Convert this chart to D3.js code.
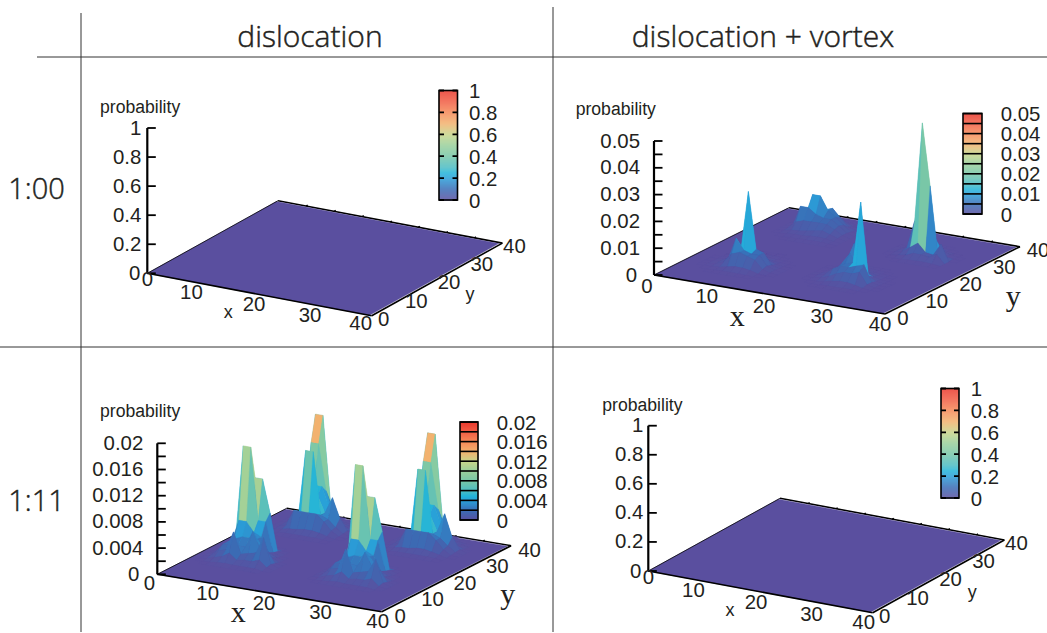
<!DOCTYPE html>
<html><head><meta charset="utf-8">
<script src="https://cdnjs.cloudflare.com/ajax/libs/d3/7.8.5/d3.min.js"></script>
<style>html,body{margin:0;padding:0;background:#fff;overflow:hidden}svg{display:block}</style>
</head><body><svg id="c" width="1047" height="633"></svg>
<script>
// ---------- DATA ----------
const columnTitles = ["dislocation", "dislocation + vortex"];
const rowLabels = ["1:00", "1:11"];
const xyTicks = [0, 10, 20, 30, 40];
const backTicks = [5, 10, 15, 20, 25, 30, 35];
const unitZTicks = [0, 0.2, 0.4, 0.6, 0.8, 1];
const unitZLabels = ["0", "0.2", "0.4", "0.6", "0.8", "1"];
const lowZTicks = [0, 0.002, 0.004, 0.006, 0.008, 0.01, 0.012, 0.014, 0.016, 0.018, 0.02];
const lowZLabels = ["0", "0.004", "0.008", "0.012", "0.016", "0.02"];
const midZTicks = [0, 0.005, 0.01, 0.015, 0.02, 0.025, 0.03, 0.035, 0.04, 0.045, 0.05];
const midZLabels = ["0", "0.01", "0.02", "0.03", "0.04", "0.05"];
const paletteStops = [0, 0.1, 0.2, 0.25, 0.3, 0.4, 0.5, 0.6, 0.7, 0.8, 0.9, 1];
const paletteColors = ["#5a4f9f", "#3a6cb5", "#2a9ed8", "#22b4d9", "#4bbcc4", "#76c6a8", "#98cf9b", "#c6d58a", "#f2b26f", "#f68a58", "#f15f45", "#e93a2e"];

// Surface samples on the 30-cell grid, in units of 0.001.
// Each row is one grid line in y (back to front), each column one grid line in x.
const lowPeakA = { i0: 1, jTop: 15, rows: [
  [0,0,.1,.2,1,1,.2,0,0,0],
  [0,0,.3,.8,11,11,6,.3,0,0],
  [0,.2,2,16,16,5,5,.5,0,0],
  [0,.2,1.5,5,5,3.5,3,.8,.2,0],
  [0,.3,1.8,2.5,3,3,3,2,.5,0],
  [0,.4,1.8,2,2,2,4.5,2,1.8,.2],
  [0,.3,1.2,1.5,4.4,1.2,1.5,1.8,4.3,.4],
  [0,.1,.5,.8,1.5,.6,.8,.8,1.2,.2],
  [0,0,.1,.2,.3,.2,.2,.2,.2,0]] };
const lowPeakB = { i0: 2, jTop: 29, rows: [
  [0,0,.3,1,1,.3,0,0,0,0],
  [0,.3,.5,16,16,3,.5,.2,0,0],
  [0,.3,.8,12,12,5,1.5,.5,.2,0],
  [0,.3,1,4,6,6,3,1,.5,0],
  [0,.3,1,2,3,5,2.5,5,2,.3],
  [0,.2,.8,1.5,12,12,2.5,2,1,.2],
  [0,.2,.6,3,3,3,3,2,.8,.1],
  [0,.1,.3,.5,.6,.8,.8,.6,.3,0],
  [0,0,.1,.2,.2,.2,.2,.2,.1,0]] };
const lowPeakC = { i0: 16, jTop: 15, rows: [
  [0,0,.1,.2,1,1,.2,0,0,0],
  [0,0,.3,.8,11,11,6,.3,0,0],
  [0,.2,2,16,16,5,5,.5,0,0],
  [0,.2,1.5,5,5,3.5,3,.8,.2,0],
  [0,.3,1.8,2.5,3,3,3.2,2,.5,0],
  [0,.4,1.8,2,2,2,4.2,2,1.8,.2],
  [0,.3,1.2,1.5,4.6,1.2,1.5,1.8,3.8,.4],
  [0,.1,.5,.8,1.5,.6,.8,.8,1.2,.2],
  [0,0,.1,.2,.3,.2,.2,.2,.2,0]] };
const lowPeakD = { i0: 17, jTop: 29, rows: [
  [0,0,.3,1,1,.3,0,0,0,0],
  [0,.3,.5,16,16,3,.5,.2,0,0],
  [0,.3,.8,12,12,5,1.5,.5,.2,0],
  [0,.3,1,4,6,6,3,1,.5,0],
  [0,.3,1,2,3,5,2.5,5.4,2,.3],
  [0,.2,.8,1.5,12,12,2.5,2,1,.2],
  [0,.2,.6,3,3,3,3,2,.8,.1],
  [0,.1,.3,.5,.6,.8,.8,.6,.3,0],
  [0,0,.1,.2,.2,.2,.2,.2,.1,0]] };
const midPeakA = { i0: 3, jTop: 13, rows: [
  [0,0,0,.1,.2,.1,0,0,0],
  [0,0,.1,.3,.6,.3,.1,0,0],
  [0,.1,.4,1,1.5,1,.4,.1,0],
  [0,.2,1,2,4,4,1.5,.4,.1],
  [.1,.4,1.5,4,27,6,5,1,.2],
  [.1,.6,2,10,6,5,5,1.5,.4],
  [.1,.4,1.5,5,6,5,4,1,.2],
  [0,.2,.4,1,1.5,1.5,1,.2,0],
  [0,0,.1,.2,.2,.2,.1,0,0]] };
const midPeakB = { i0: 3, jTop: 28, rows: [
  [0,0,0,.2,.5,.5,.2,0,0],
  [0,0,.2,1,2,3,1.5,.3,0],
  [0,.2,.5,2,6,7,4,1,.2],
  [0,.3,1,12,12,7,5,2.5,.5],
  [0,.3,8,8,6,5,5,3,.8],
  [0,.3,3,4,4,4,4,2.5,.8],
  [0,.2,.8,1,1.5,2,2.5,1.5,.5],
  [0,0,.3,.5,.5,.8,1,.8,.3],
  [0,0,0,.2,.2,.3,.4,.3,.2]] };
const midPeakC = { i0: 15, jTop: 14, rows: [
  [0,0,0,.1,.2,.2,.1,0,0,0],
  [0,0,.1,.4,1,.6,.3,.1,0,0],
  [0,.1,.4,1.5,11,2,1,.4,.1,0],
  [0,.1,.5,4,8,4,2,.8,.1,0],
  [0,.2,1,3,5,6,29,2,.4,.1],
  [0,.2,1,3.5,5,5,6,7,.8,.1],
  [0,.1,.5,1.5,3,4,4,5,.8,.1],
  [0,0,.1,.4,1,1.5,1.5,1,.3,0],
  [0,0,0,.1,.2,.2,.2,.2,0,0]] };
const midPeakD = { i0: 18, jTop: 25, rows: [
  [0,0,0,.2,.3,.2,0,0,0],
  [0,0,.2,.5,1,1,.3,0,0],
  [0,.2,.5,1.5,6,6,1.5,.3,0],
  [0,.2,1.5,12,49,26,1,.5,.1],
  [0,.2,1,3,5,2,1.5,6,0],
  [0,0,.3,.8,2,2,1.5,3,0],
  [0,0,0,.2,.4,.5,.5,.3,0]] };

const surfaceTL = [];
const surfaceTR = [midPeakA, midPeakB, midPeakC, midPeakD];
const surfaceBL = [lowPeakA, lowPeakB, lowPeakC, lowPeakD];
const surfaceBR = [];
const gridCells = 30;
const gridSpan = 40;

// ---------- LAYOUT ----------
const panels = [
 { o:[147.3,273.3], xE:[371.7,315.7], yE:[278,200.7], zTop:128, zMax:1, zTicks:unitZTicks, zLabels:unitZLabels, surf:surfaceTL,
   zLabX:-6, zeroX:-7, xOff:[[0,6],[-12,8],[-5.5,9],[-5.6,10],[-11,7.6]], yOff:[12,3],
   xLab:[228.3,311.7], yLab:[470,294.3], serif:false, prob:[100,106.7],
   bar:[439,457.5,90.5,200], barLabX:469, discrete:false, barTicks:unitZTicks },
 { o:[654,275], xE:[885,314], yE:[789,207.7], zTop:141, zMax:0.05, zTicks:midZTicks, zLabels:midZLabels, surf:surfaceTR,
   zLabX:-14, zeroX:-17, xOff:[[-7,11],[-5,11],[-5.5,11.5],[-5.5,11.5],[-5,10]], yOff:[18,3.5],
   xLab:[737.3,315], yLab:[1013.3,295.7], serif:true, prob:[575.7,109],
   bar:[963,982,113.5,214], barLabX:1000.7, discrete:true, barTicks:midZTicks },
 { o:[157.3,574.3], xE:[381.7,611.7], yE:[286.7,508.3], zTop:443.3, zMax:0.02, zTicks:lowZTicks, zLabels:lowZLabels, surf:surfaceBL,
   zLabX:-14, zeroX:-18, xOff:[[-8,9],[-5.7,9.6],[-5.5,9.7],[-5,10],[-4,9.3]], yOff:[18.5,4],
   xLab:[238.3,611.7], yLab:[507.7,593.3], serif:true, prob:[100,410.7],
   bar:[460,478,422,520], barLabX:496.7, discrete:true, barTicks:lowZTicks },
 { o:[648.3,571], xE:[872.7,612.7], yE:[780,498.3], zTop:425.7, zMax:1, zTicks:unitZTicks, zLabels:unitZLabels, surf:surfaceBR,
   zLabX:-5, zeroX:-7, xOff:[[0,6],[-11,9],[-4.5,10],[-5,12],[-9,9]], yOff:[12,3],
   xLab:[730,610], yLab:[972.3,591.7], serif:false, prob:[602.3,405],
   bar:[941,959,388.5,498], barLabX:970.7, discrete:false, barTicks:unitZTicks }
];

const SANS = '"Liberation Sans", Arial, sans-serif';
const SERIF = '"Liberation Serif", serif';
const TITLE = '"Open Sans", sans-serif';
const INK = "#231f20";
const svg = d3.select("#c");

// ---------- TABLE RULES ----------
const rules = [[37,57,1047,57],[0,347,1047,347],[81,13,81,632],[553,7,553,632]];
svg.selectAll("line.rule").data(rules).join("line").attr("class","rule")
  .attr("x1",d=>d[0]).attr("y1",d=>d[1]).attr("x2",d=>d[2]).attr("y2",d=>d[3])
  .attr("stroke","#333").attr("stroke-width",1);
const heavy = sel => sel.style("font-family",TITLE).style("font-weight",300).attr("fill",INK).attr("stroke",INK).attr("stroke-width",.45);
svg.selectAll("text.coltitle").data(columnTitles).join("text").attr("class","coltitle")
  .attr("x",(d,i)=>[310,763][i]).attr("y",47).attr("text-anchor","middle").style("font-size","30px").call(heavy).text(d=>d);
svg.selectAll("text.rowlabel").data(rowLabels).join("text").attr("class","rowlabel")
  .attr("x",36.5).attr("y",(d,i)=>[199,511][i]).attr("text-anchor","middle").style("font-size","29px").call(heavy).text(d=>d);

// ---------- PANELS ----------
const palette = d3.scaleLinear().domain(paletteStops).range(paletteColors).clamp(true);

panels.forEach(p => {
  const g = svg.append("g");
  const xS = d3.scaleLinear().domain([0,40]).range([0,1]);
  const yS = d3.scaleLinear().domain([0,40]).range([0,1]);
  const zS = d3.scaleLinear().domain([0,p.zMax]).range([0,p.zTop-p.o[1]]);
  const gS = d3.scaleLinear().domain([0,gridCells]).range([0,gridSpan]);
  const proj = (x,y,z) => [
    p.o[0] + xS(x)*(p.xE[0]-p.o[0]) + yS(y)*(p.yE[0]-p.o[0]),
    p.o[1] + xS(x)*(p.xE[1]-p.o[1]) + yS(y)*(p.yE[1]-p.o[1]) + zS(z)
  ];
  const right = [p.xE[0]+p.yE[0]-p.o[0], p.xE[1]+p.yE[1]-p.o[1]];
  const line = d3.line();
  const black = a => g.append("path").attr("d",line(a)).attr("stroke","#000").attr("fill","none");

  // build sparse grid from the samples
  const grid = new Map();
  const key = (i,j)=>i+","+j;
  p.surf.forEach(s => s.rows.forEach((row,r) => row.forEach((v,c) => { if(v>0) grid.set(key(s.i0+c,s.jTop-r), v*0.001); })));
  const h = (i,j)=>grid.get(key(i,j))||0;

  // back axis under the surface
  g.append("path").attr("d",line([proj(0,40,0),proj(40,40,0)])).attr("stroke","#000").attr("stroke-width",1.6).attr("fill","none");
  g.selectAll("path.bt").data(backTicks).join("path").attr("class","bt")
    .attr("d",d=>line([proj(d,40,0),proj(d,40.5,0)])).attr("stroke","#000").attr("stroke-width",1.4);

  // base sheet, with its left edge beneath the raised surface
  g.append("path").attr("d",line([proj(0,0,0),proj(39.6,0,0),proj(39.6,39.5,0),proj(0,39.5,0)])+"Z")
    .attr("fill",palette(0)).attr("stroke",palette(0)).attr("stroke-width",.5);
  black([p.o,p.yE]).attr("stroke-width",.8);

  // raised quads, far to near
  const quads = [];
  for (let j=gridCells-1; j>=0; j--) for (let i=0; i<gridCells; i++) {
    const c = [[i,j],[i+1,j],[i+1,j+1],[i,j+1]];
    const zs = c.map(q=>h(q[0],q[1]));
    if (d3.max(zs)>0) quads.push({c, zs, m:d3.mean(zs)/p.zMax});
  }
  g.selectAll("path.q").data(quads).join("path").attr("class","q")
    .attr("d",d=>line(d.c.map((q,n)=>proj(gS(q[0]),gS(q[1]),d.zs[n])))+"Z")
    .attr("fill",d=>palette(d.m)).attr("stroke",d=>palette(d.m)).attr("stroke-width",.3).attr("stroke-linejoin","round");

  // axis frame
  black([p.o,[p.o[0],p.zTop]]).attr("stroke-width",2.2);
  black([p.o,p.xE]).attr("stroke-width",1.6);
  black([p.xE,right]).attr("stroke-width",1.6);

  // z ticks & labels
  g.selectAll("path.zt").data(p.zTicks).join("path").attr("class","zt")
    .attr("d",d=>line([[p.o[0],p.o[1]+zS(d)],[p.o[0]+8.5,p.o[1]+zS(d)]])).attr("stroke","#000").attr("stroke-width",1.8);
  const tickText = (sel)=>sel.style("font-family",SANS).style("font-size","20.4px").attr("fill",INK).attr("dominant-baseline","central");
  g.selectAll("text.zl").data(p.zLabels).join("text").attr("class","zl").call(tickText)
    .attr("x",d=>p.o[0]+(d==="0"?p.zeroX:p.zLabX)).attr("y",d=>p.o[1]+zS(+d)-0.5).attr("text-anchor","end").text(d=>d);
  g.selectAll("text.xl").data(xyTicks).join("text").attr("class","xl").call(tickText)
    .attr("x",(d,i)=>proj(d,0,0)[0]+p.xOff[i][0]).attr("y",(d,i)=>proj(d,0,0)[1]+p.xOff[i][1]).attr("text-anchor","middle").text(d=>d);
  g.selectAll("text.yl").data(xyTicks).join("text").attr("class","yl").call(tickText)
    .attr("x",d=>proj(40,d,0)[0]+p.yOff[0]).attr("y",d=>proj(40,d,0)[1]+p.yOff[1]).attr("text-anchor","middle").text(d=>d);

  // axis titles
  g.append("text").attr("x",p.prob[0]).attr("y",p.prob[1]).attr("dominant-baseline","central")
    .style("font-family",SANS).style("font-size","17.6px").attr("fill",INK).text("probability");
  [["x",p.xLab],["y",p.yLab]].forEach(([t,pos])=>{
    g.append("text").attr("x",pos[0]).attr("y",pos[1]).attr("text-anchor","middle").attr("dominant-baseline","central")
      .style("font-family",p.serif?SERIF:SANS).style("font-size",p.serif?"30px":"18px").attr("fill",INK).text(t);
  });

  // colour bar
  const [bx0,bx1,by0,by1] = p.bar;
  const bS = d3.scaleLinear().domain([0,p.zMax]).range([by1,by0]);
  g.selectAll("rect.cb").data(d3.range(0,by1-by0,1)).join("rect").attr("class","cb")
    .attr("x",bx0).attr("width",bx1-bx0).attr("y",d=>by0+d).attr("height",1.2)
    .attr("fill",d=>palette(1-d/(by1-by0)));
  g.append("rect").attr("x",bx0).attr("y",by0).attr("width",bx1-bx0).attr("height",by1-by0)
    .attr("fill","none").attr("stroke","#000").attr("stroke-width",1.6);
  g.selectAll("path.bt2").data(p.barTicks).join("path").attr("class","bt2")
    .attr("d",d=>p.discrete
      ? line([[bx0,bS(d)],[bx1,bS(d)]])
      : "M"+bx0+","+bS(d)+"h5M"+bx1+","+bS(d)+"h-5")
    .attr("stroke","#000").attr("stroke-width",p.discrete?1.6:1.8);
  g.selectAll("text.bl").data(p.zLabels).join("text").attr("class","bl").call(tickText)
    .attr("x",p.barLabX).attr("y",d=>bS(+d)+0.5).text(d=>d);
});
</script></body></html>
